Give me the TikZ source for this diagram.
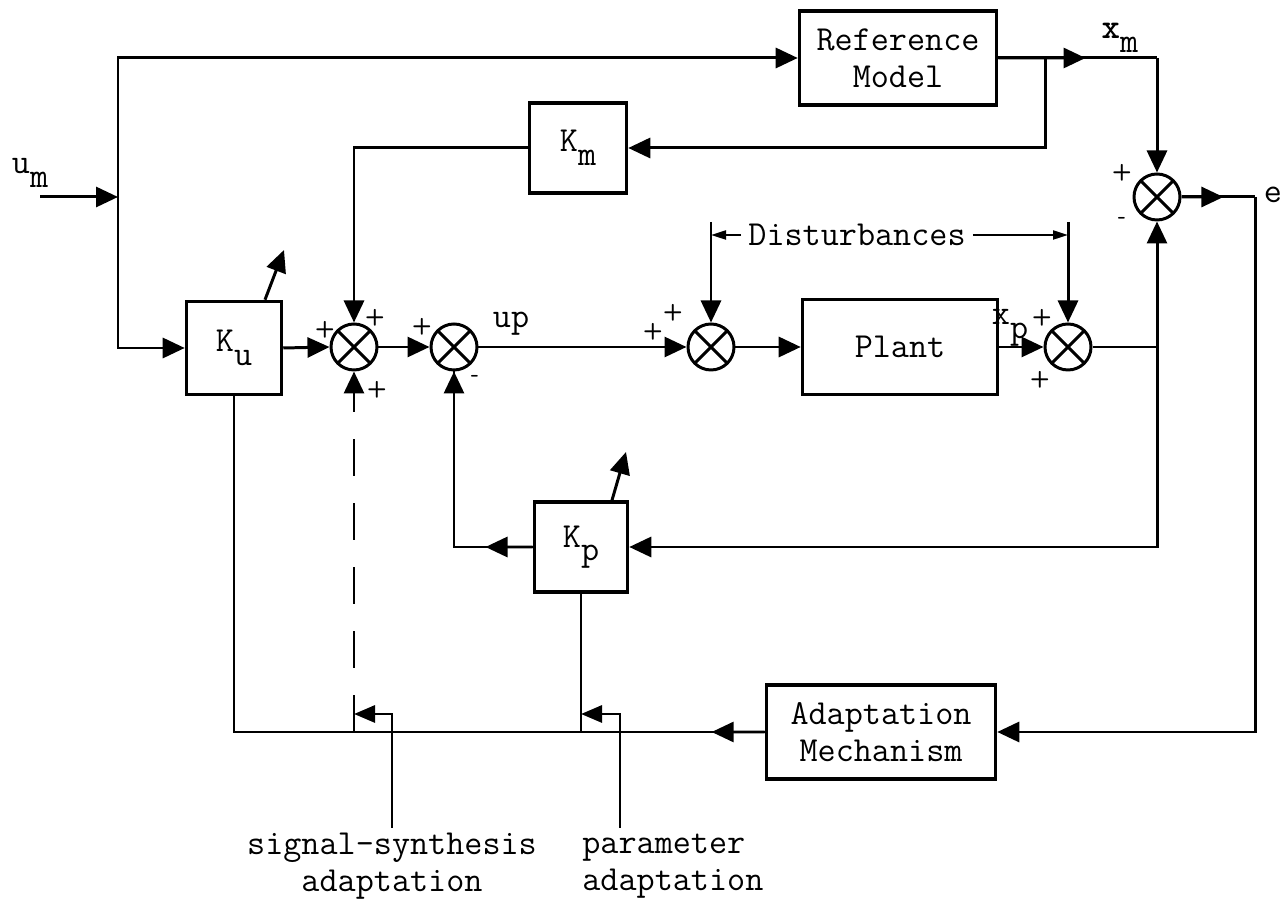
\documentclass[tikz,border=0pt]{standalone}
\usepackage{fontspec}
\usetikzlibrary{arrows.meta, calc}

\newcommand{\lowsub}[1]{\raisebox{-0.9ex}{#1}}

\tikzset{
  blk/.style={draw, line width=2pt, inner sep=0pt, align=center},
  sumnode/.style={draw, circle, minimum size=9.2mm, inner sep=0pt,
    path picture={\draw (path picture bounding box.north west) -- (path picture bounding box.south east)
                        (path picture bounding box.north east) -- (path picture bounding box.south west);}},
  arr/.style={-{Triangle[length=4.4mm, width=4mm]}},
  smallarr/.style={-{Triangle[length=4.2mm, width=3.4mm]}},
  distarr/.style={line width=1.2pt, -{Triangle[length=3mm, width=1.8mm]}},
  sgn/.style={inner sep=0pt, font=\sffamily\bfseries\fontsize{13}{13}\selectfont},
}

\begin{document}
\begin{tikzpicture}[x=0.2mm, y=-0.2mm, line width=1.7pt,
                    font=\ttfamily\fontsize{20}{21}\selectfont]
  \useasboundingbox (0,0) rectangle (1287,901);

  % Blocks
  \node[blk, minimum width=39.4mm, minimum height=18.8mm] (ref) at (898,58) {Reference\\Model};
  \node[blk, minimum width=19.4mm, minimum height=18mm] (km) at (578,148) {K\lowsub{m}};
  \node[blk, minimum width=19mm, minimum height=18.6mm] (ku) at (234,348) {K\lowsub{u}};
  \node[blk, minimum width=39mm, minimum height=19mm] (plant) at (900,347) {Plant};
  \node[blk, minimum width=18.6mm, minimum height=18mm] (kp) at (581,547) {K\lowsub{p}};
  \node[blk, minimum width=45.8mm, minimum height=18.8mm] (adapt) at (881,732) {Adaptation\\Mechanism};

  % Summing junctions
  \node[sumnode] (sum1) at (354,347) {};
  \node[sumnode] (sum2) at (454,347) {};
  \node[sumnode] (sumd) at (711,347) {};
  \node[sumnode] (sum4) at (1068,347) {};
  \node[sumnode] (sum3) at (1157,197) {};

  % Signs
  \node[sgn] (s1a) at (325,330) {+};
  \node[sgn] (s1b) at (375,318) {+};
  \node[sgn] (s1c) at (377,390) {+};
  \node[sgn] (s2a) at (422,327) {+};
  \node[sgn] (s2b) at (475,378) {-};
  \node[sgn] (sda) at (653,332) {+};
  \node[sgn] (sdb) at (673,313) {+};
  \node[sgn] (s4a) at (1042,318) {+};
  \node[sgn] (s4b) at (1040,380) {+};
  \node[sgn] (s3a) at (1122,173) {+};
  \node[sgn] (s3b) at (1122,220) {-};

  % Signal labels
  \node (umlbl) at (30,173) {u\lowsub{m}};
  \node (xmlbl) at (1120,38) {\textbf{x}\lowsub{m}};
  \node (elbl) at (1273,195) {e};
  \node (uplbl) at (511,324) {up};
  \node (xplbl) at (1010,328) {x\lowsub{p}};
  \node (dist) at (857,235) {Disturbances};
  \node[align=center] (sstext) at (392,866) {signal-synthesis\\adaptation};
  \node[align=left, anchor=west] (patext) at (575,866) {parameter\\adaptation};

  % Helper points
  \coordinate (umin) at (40,197);
  \coordinate (split) at (118,197);
  \coordinate (tap) at (1045,58);
  \coordinate (xmc) at (1157,58);
  \coordinate (ecorner) at (1255,197);
  \coordinate (ybr) at (1157,347);
  \coordinate (dl) at (711,222);
  \coordinate (dr) at (1068,222);
  \coordinate (kuadj) at (284,250);
  \coordinate (kpadj) at (626,452);
  \coordinate (ssin) at (392,828);
  \coordinate (ssend) at (354,714);
  \coordinate (pain) at (620,828);
  \coordinate (paend) at (581,714);

  % Input and model
  \draw[arr] (umin) -- (split);
  \draw[arr] (split) |- (ref.west);
  \draw[arr] (split) |- (ku.west);
  \draw[arr] (tap) |- (km.east);
  \draw[arr] (km.west) -| (sum1.north);

  % Forward path
  \draw[arr] (ku.east) -- (sum1.west);
  \draw[arr] (sum1.east) -- (sum2.west);
  \draw[arr] (sum2.east) -- (sumd.west);
  \draw[arr] (sumd.east) -- (plant.west);
  \draw[arr] (plant.east) -- (sum4.west);

  % Disturbances
  \draw[arr] (dl) -- (sumd.north);
  \draw[arr] (dr) -- (sum4.north);
  \draw[distarr] (dist.west) -- (dl |- dist.west);
  \draw[distarr] (dist.east) -- (dr |- dist.east);

  % Error
  \draw (ref.east) -- (xmc);
  \draw[arr] (ref.east) -- ($(ref.east)!0.55!(xmc)$);
  \draw[arr] (xmc) -- (sum3.north);
  \draw (sum3.east) -- (ecorner);
  \draw[arr] (sum3.east) -- ($(sum3.east)!0.57!(ecorner)$);
  \draw[arr] (ecorner) |- (adapt.east);

  % Plant output feedback
  \draw (sum4.east) -- (ybr);
  \draw[arr] (ybr) -- (sum3.south);
  \draw[arr] (ybr) |- (kp.east);
  \draw (kp.west) -| (sum2.south);
  \draw[arr] (kp.west) -- ($(kp.west)!0.6!(kp.west -| sum2.south)$);
  \draw[arr] (kp.west -| sum2.south) -- (sum2.south);

  % Adaptation
  \draw (adapt.west) -| (ku.south);
  \draw[arr] (adapt.west) -- ($(adapt.west)!0.1!(adapt.west -| ku.south)$);
  \draw (kp.south) -- (kp.south |- adapt.west);
  \draw[arr, dash pattern=on 7.4mm off 5.4mm] (sum1.south |- adapt.west) -- (sum1.south);
  \draw[arr] (kp.north) ++(31,0) -- (kpadj);
  \draw[arr] (ku.north) ++(31,0) -- (kuadj);
  \draw[smallarr] (ssin) |- (ssend);
  \draw[smallarr] (pain) |- (paend);
\end{tikzpicture}
\end{document}
